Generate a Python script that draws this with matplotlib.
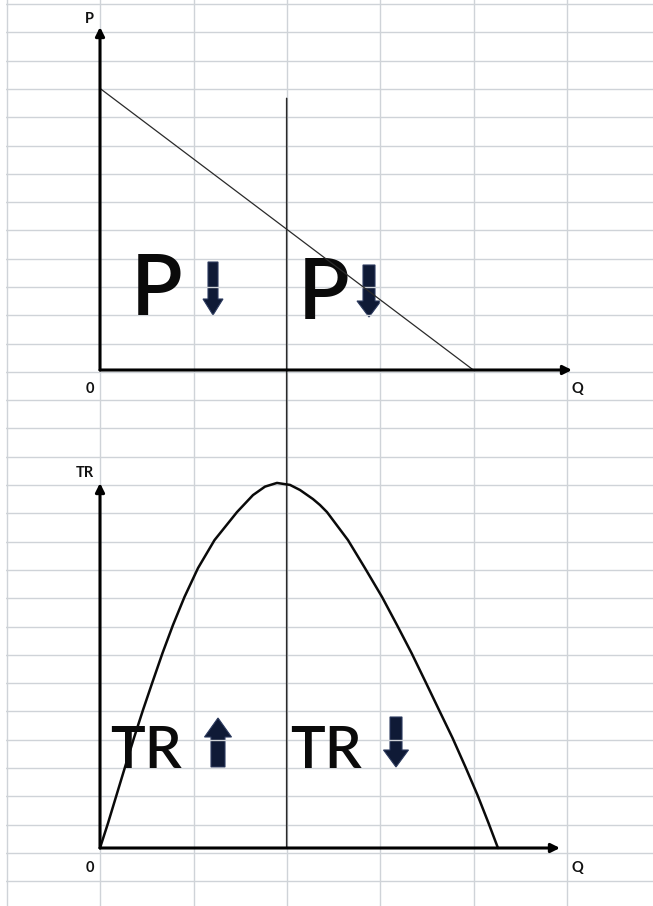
import numpy as np
import matplotlib
matplotlib.use("Agg")
import matplotlib.pyplot as plt
from matplotlib.patches import ConnectionPatch, FancyArrow

# ---------------- data ----------------
# Demand curve (top panel): P against Q
demand_q = [0.0, 4.0]
demand_p = [9.95, 0.0]

# Total revenue curve (bottom panel)
tr_q = [0.000, 0.086, 0.177, 0.268, 0.364, 0.461, 0.563, 0.670, 0.782, 0.905,
        1.050, 1.227, 1.468, 1.639, 1.768, 1.896,
        2.036, 2.143, 2.282, 2.357, 2.432, 2.657, 2.839, 3.022, 3.182, 3.338,
        3.488, 3.632, 3.777, 3.916, 4.045, 4.163, 4.264]
tr_v = [0.00, 0.88, 1.87, 2.86, 3.89, 4.88, 5.87, 6.89, 7.88, 8.87,
        9.89, 10.88, 11.87, 12.47, 12.77, 12.90,
        12.83, 12.65, 12.33, 12.12, 11.87, 10.88, 9.89, 8.87, 7.88, 6.89,
        5.87, 4.88, 3.89, 2.86, 1.87, 0.88, 0.00]

# Unit-elastic quantity (vertical divider) and its top end on the P scale
q_mid = 2.0
divider_top_p = 9.6

top_axis_labels = ["P", "Q", "0"]
bottom_axis_labels = ["TR", "Q", "0"]
region_labels_top = ["P", "P"]
region_labels_bottom = ["TR", "TR"]

# ---------------- figure ----------------
W, H = 653, 906
fig = plt.figure(figsize=(W / 100, H / 100), dpi=100)
fig.patch.set_facecolor("white")

# background spreadsheet grid in pixel coordinates
bg = fig.add_axes([6 / W, 0, 1 - 6 / W, 1])
bg.set_xlim(6, W)
bg.set_ylim(H, 0)
bg.set_xticks(np.arange(7, W, 93.33))
bg.set_yticks(np.arange(4, H, 28.3))
bg.grid(True, color="#cfd3d8", lw=1.0)
bg.tick_params(length=0, labelbottom=False, labelleft=False)
for s in bg.spines.values():
    s.set_visible(False)
bg.set_zorder(0)

grid_px = 93.33   # pixels per Q unit
row_px = 28.3     # pixels per P / TR unit

def add_panel(x0, y_origin, x_tip, y_tip):
    ax = fig.add_axes([x0 / W, (H - y_origin) / H, (x_tip - x0) / W, (y_origin - y_tip) / H])
    ax.set_xlim(0, (x_tip - x0) / grid_px)
    ax.set_ylim(0, (y_origin - y_tip) / row_px)
    ax.patch.set_alpha(0)
    for s in ax.spines.values():
        s.set_visible(False)
    ax.set_xticks([])
    ax.set_yticks([])
    ap = dict(arrowstyle="-|>", lw=2.2, color="black", mutation_scale=13,
              shrinkA=0, shrinkB=0)
    ax.annotate("", xy=(1, 0), xytext=(0, 0), xycoords="axes fraction",
                textcoords="axes fraction", arrowprops=ap, annotation_clip=False)
    ax.annotate("", xy=(0, 1), xytext=(0, 0), xycoords="axes fraction",
                textcoords="axes fraction", arrowprops=ap, annotation_clip=False)
    ax.set_zorder(2)
    return ax

ax_top = add_panel(100, 370, 572, 27)
ax_bot = add_panel(100, 848, 560, 483)

ax_top.plot(demand_q, demand_p, color="#2a2a2a", lw=0.9, clip_on=False)
ax_bot.plot(tr_q, tr_v, color="#0a0a0a", lw=1.8, clip_on=False,
            solid_joinstyle="round", solid_capstyle="round")

con = ConnectionPatch(xyA=(q_mid, divider_top_p), coordsA=ax_top.transData,
                      xyB=(q_mid, 0), coordsB=ax_bot.transData,
                      color="#2a2a2a", lw=1.1)
fig.add_artist(con)

# small axis labels
small = dict(fontsize=10.5, fontweight="bold", family="Lato", color="#111111",
             ha="center", va="center")
bg.text(89, 19, top_axis_labels[0], **small)
bg.text(577, 389, top_axis_labels[1], **small)
bg.text(90, 389, top_axis_labels[2], **small)
bg.text(85, 473, bottom_axis_labels[0], **small)
bg.text(577, 868, bottom_axis_labels[1], **small)
bg.text(90, 868, bottom_axis_labels[2], **small)

# big region labels
big_p = dict(fontsize=61, family="Lato", fontweight="semibold", color="#0a0a0a",
             ha="left", va="baseline")
bg.text(131, 315, region_labels_top[0], **big_p)
bg.text(298, 319, region_labels_top[1], **big_p)
big_tr = dict(fontsize=42, family="Lato", fontweight="semibold", color="#0a0a0a",
              ha="left", va="baseline")
bg.text(110, 768, region_labels_bottom[0], **big_tr)
bg.text(290, 768, region_labels_bottom[1], **big_tr)

# thick navy arrows
navy = "#0f1a36"
arrows = [
    (213, 262, 53, 10, 20, 16),
    (369, 265, 52, 12, 24, 16),
    (218, 767, -49, 14, 27, 19),
    (396, 717, 50, 12, 25, 17),
]
for x, y, dy, w, hw, hl in arrows:
    bg.add_patch(FancyArrow(x, y, 0, dy, width=w, head_width=hw, head_length=hl,
                            length_includes_head=True, color=navy, lw=0.8,
                            ec="#2c3a5e"))

fig.savefig("out.png", dpi=100)
